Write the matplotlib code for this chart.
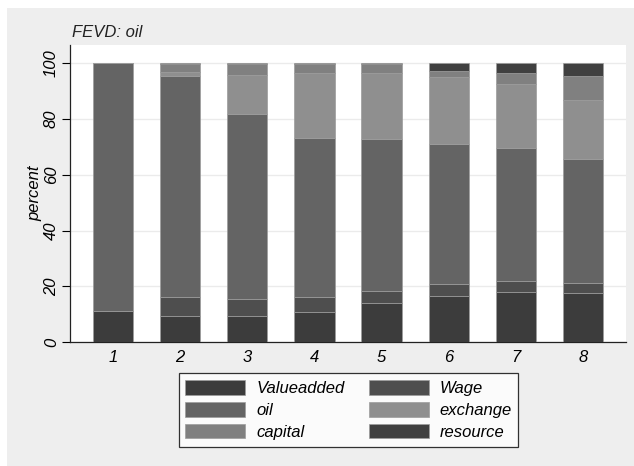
import matplotlib
matplotlib.use("Agg")
import matplotlib.pyplot as plt
from matplotlib.patches import Rectangle, Patch

plt.rcParams['font.family'] = ['Liberation Sans', 'DejaVu Sans']

periods = [1, 2, 3, 4, 5, 6, 7, 8]
series_names = ["Valueadded", "Wage", "oil", "exchange", "capital", "resource"]
valueadded = [11.2, 9.4, 9.4, 10.9, 13.9, 16.6, 18.1, 17.6]
wage       = [0.0, 6.6, 6.1, 5.1, 4.5, 4.3, 3.7, 3.7]
oil        = [88.8, 79.3, 66.4, 57.3, 54.3, 50.3, 47.7, 44.3]
exchange   = [0.0, 1.7, 14.1, 23.3, 23.9, 24.0, 23.1, 21.1]
capital    = [0.0, 2.8, 3.7, 3.2, 3.2, 2.2, 3.9, 8.9]
resource   = [0.0, 0.2, 0.3, 0.2, 0.2, 2.6, 3.5, 4.4]
yticks = [0, 20, 40, 60, 80, 100]

colors = ["#3c3c3c", "#4e4e4e", "#646464", "#8f8f8f", "#808080", "#404040"]
edge = "#9c9c9c"

W, H = 634, 466
fig = plt.figure(figsize=(W / 100, H / 100), dpi=100, facecolor="white")
fig.patches.append(Rectangle((7 / W, 0), 1 - 7 / W, 1 - 8 / H, transform=fig.transFigure,
                             facecolor="#eeeeee", edgecolor="none", zorder=-10))

ax = fig.add_axes([70 / W, (H - 342) / H, (626 - 70) / W, (342 - 45) / H])
ax.set_facecolor("white")

data = [valueadded, wage, oil, exchange, capital, resource]
bottom = [0.0] * len(periods)
handles = []
for name, vals, c in zip(series_names, data, colors):
    ax.bar(periods, vals, width=0.6, bottom=bottom, color=c, edgecolor=edge,
           linewidth=0.5, zorder=3)
    bottom = [b + v for b, v in zip(bottom, vals)]
    handles.append(Patch(facecolor=c, edgecolor=edge, linewidth=0.5, label=name))

ax.set_xlim(0.36, 8.64)
ax.set_ylim(0, 106.6)
ax.set_yticks(yticks)
ax.set_yticklabels([str(t) for t in yticks], rotation=90, va="center",
                   fontsize=12, fontstyle="italic")
ax.set_xticks(periods)
ax.set_xticklabels([str(p) for p in periods], fontsize=12, fontstyle="italic")
ax.tick_params(axis="x", length=0, pad=6)
ax.tick_params(axis="y", length=6, width=0.8, pad=2, direction="out")
ax.yaxis.grid(True, color="#ebebeb", linewidth=1.0, zorder=0)
ax.set_axisbelow(True)
for s in ["top", "right"]:
    ax.spines[s].set_visible(False)
ax.spines["left"].set_linewidth(0.9)
ax.spines["bottom"].set_linewidth(0.9)
ax.spines["left"].set_color("#222222")
ax.spines["bottom"].set_color("#222222")
ax.set_ylabel("percent", fontsize=12, fontstyle="italic", labelpad=1)

fig.text(72 / W, 1 - 37 / H, "FEVD: oil", fontsize=12, fontstyle="italic",
         ha="left", va="baseline", color="#222222")

order = [0, 2, 4, 1, 3, 5]
leg = fig.legend([handles[i] for i in order], [series_names[i] for i in order],
                 ncol=2, loc="center", bbox_to_anchor=((179 + 518) / 2 / W, 1 - 410 / H),
                 prop={"size": 12, "style": "italic"}, frameon=True, fancybox=False,
                 handlelength=3.6, handleheight=0.96, handletextpad=0.65,
                 columnspacing=1.45, labelspacing=0.36, borderpad=0.4)
leg.get_frame().set_edgecolor("black")
leg.get_frame().set_linewidth(0.9)
leg.get_frame().set_facecolor("white")

fig.savefig("out.png", dpi=100, facecolor=fig.get_facecolor())
